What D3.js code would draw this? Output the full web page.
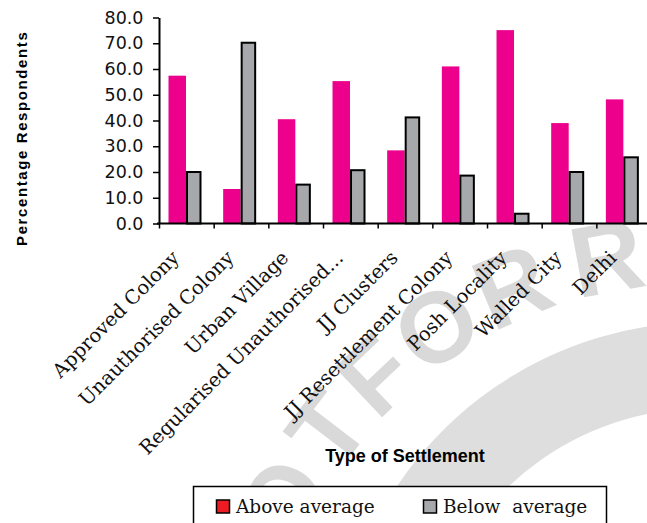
<!DOCTYPE html>
<html>
<head>
<meta charset="utf-8">
<script src="https://cdn.jsdelivr.net/npm/d3@7"></script>
<style>
  html, body { margin: 0; padding: 0; background: #fff; }
  svg { display: block; }
</style>
</head>
<body>
<svg id="chart" width="647" height="523"></svg>
<script>
// Settlement types and survey shares (percentage of respondents)
const categories = [
  "Approved Colony",
  "Unauthorised Colony",
  "Urban Village",
  "Regularised Unauthorised...",
  "JJ Clusters",
  "JJ Resettlement Colony",
  "Posh Locality",
  "Walled City",
  "Delhi"
];
const aboveAverage = [57.4, 13.4, 40.5, 55.3, 28.4, 61.0, 75.1, 39.0, 48.2];
const belowAverage = [20.0, 70.2, 15.1, 20.7, 41.2, 18.6, 3.8, 20.0, 25.7];
const seriesNames = ["Above average", "Below  average"];
const yTicks = [0, 10, 20, 30, 40, 50, 60, 70, 80];

// background stamp: letters and the angle (deg) of each glyph centre on its circle
const stampText = "NOT FOR R";
const stampAngles = [-164, -153.2, -142.5, -138, -133.5, -123.7, -112.9, -106, -100.5];

const W = 647, H = 523;
const svg = d3.select("#chart");

const plot = { left: 159, top: 17.5, bottom: 223.5, bandW: 54.67 };

const x = d3.scaleBand()
  .domain(categories)
  .range([plot.left, plot.left + categories.length * plot.bandW])
  .paddingInner(0).paddingOuter(0);

const xEdge = d3.scaleLinear()
  .domain([0, categories.length])
  .range([plot.left, plot.left + categories.length * plot.bandW]);

const series = d3.scaleBand()
  .domain(seriesNames)
  .range([9.5, 44.5]);

const y = d3.scaleLinear()
  .domain([0, 80])
  .range([plot.bottom, plot.top]);

// ---- faint background stamp ----
const stamp = svg.append("g").attr("class", "stamp");
stamp.append("path")
  .attr("transform", "translate(705,693)")
  .attr("d", d3.arc()({
    innerRadius: 285, outerRadius: 371,
    startAngle: -72 * Math.PI / 180, endAngle: 2 * Math.PI / 180
  }))
  .attr("fill", "#dedede");

{
  const cx = 690, cy = 707, r = 458, fs = 100, capH = 0.716 * fs;
  const font = "'Liberation Sans', Arial, sans-serif";
  const meas = svg.append("text")
    .attr("font-family", font).attr("font-weight", "bold").attr("font-size", fs)
    .style("white-space", "pre").attr("visibility", "hidden");
  const xs = [], ys = [], rots = [];
  stampText.split("").forEach((ch, i) => {
    meas.text(ch);
    const w = meas.node().getComputedTextLength();
    const th = stampAngles[i] * Math.PI / 180;
    const ph = th + Math.PI / 2;
    const Cx = cx + r * Math.cos(th), Cy = cy + r * Math.sin(th);
    const tx = Math.cos(ph), ty = Math.sin(ph);
    const ux = Math.sin(ph), uy = -Math.cos(ph);
    xs.push(Cx - w / 2 * tx - capH / 2 * ux);
    ys.push(Cy - w / 2 * ty - capH / 2 * uy);
    rots.push(stampAngles[i] + 90);
  });
  meas.remove();
  stamp.append("text")
    .attr("font-family", font).attr("font-weight", "bold").attr("font-size", fs)
    .attr("fill", "#d9d9d9")
    .style("white-space", "pre")
    .attr("x", xs.map(v => v.toFixed(1)).join(" "))
    .attr("y", ys.map(v => v.toFixed(1)).join(" "))
    .attr("rotate", rots.map(v => v.toFixed(1)).join(" "))
    .text(stampText);
}

// ---- bars ----
const groups = svg.append("g").selectAll("g")
  .data(categories)
  .join("g")
  .attr("transform", d => `translate(${x(d)},0)`);

groups.append("rect")
  .attr("x", series(seriesNames[0]))
  .attr("y", (d, i) => y(aboveAverage[i]))
  .attr("width", series.bandwidth())
  .attr("height", (d, i) => y(0) - y(aboveAverage[i]))
  .attr("fill", "#ec008c");

groups.append("rect")
  .attr("x", series(seriesNames[1]) + 1)
  .attr("y", (d, i) => y(belowAverage[i]))
  .attr("width", series.bandwidth() - 4)
  .attr("height", (d, i) => y(0) - y(belowAverage[i]))
  .attr("fill", "#a7a8ac")
  .attr("stroke", "#000")
  .attr("stroke-width", 2);

// ---- axes ----
const yAxis = svg.append("g")
  .attr("transform", `translate(${plot.left},0)`)
  .call(d3.axisLeft(y).tickValues(yTicks).tickFormat(d3.format(".1f"))
    .tickSize(6).tickSizeOuter(0).tickPadding(9.5));
yAxis.select(".domain").attr("stroke", "#000").attr("stroke-width", 2);
yAxis.selectAll(".tick line").attr("stroke", "#000").attr("stroke-width", 1.5);
yAxis.selectAll(".tick text")
  .attr("font-family", "'DejaVu Sans', Verdana, sans-serif")
  .attr("font-size", 17.5)
  .attr("fill", "#111");

const xAxis = svg.append("g")
  .attr("transform", `translate(0,${plot.bottom})`)
  .call(d3.axisBottom(xEdge).tickValues(d3.range(categories.length + 1))
    .tickFormat("").tickSize(5).tickSizeOuter(0));
xAxis.select(".domain").attr("stroke", "#000").attr("stroke-width", 2)
  .attr("d", `M${plot.left - 2},0H${W + 10}`);
xAxis.selectAll(".tick line").attr("stroke", "#000").attr("stroke-width", 1.5);

// category labels, rotated
svg.append("g").selectAll("text")
  .data(categories)
  .join("text")
  .attr("transform", d => `translate(${x(d) + x.bandwidth() / 2 - 6},${plot.bottom + 35.5}) rotate(-45)`)
  .attr("text-anchor", "end")
  .attr("font-family", "'DejaVu Serif', Georgia, serif")
  .attr("font-size", 19.5)
  .attr("fill", "#111")
  .text(d => d);

// ---- axis titles ----
svg.append("text")
  .attr("transform", "translate(26.5,138.3) rotate(-90)")
  .attr("text-anchor", "middle")
  .attr("font-family", "'Liberation Sans', Arial, sans-serif")
  .attr("font-weight", "bold")
  .attr("font-size", 15)
  .attr("letter-spacing", 1.6)
  .attr("fill", "#000")
  .text("Percentage Respondents");

svg.append("text")
  .attr("x", 405)
  .attr("y", 462)
  .attr("text-anchor", "middle")
  .attr("font-family", "'Liberation Sans', Arial, sans-serif")
  .attr("font-weight", "bold")
  .attr("font-size", 18)
  .attr("fill", "#000")
  .text("Type of Settlement");

// ---- legend ----
const legend = svg.append("g");
legend.append("rect")
  .attr("x", 193.5).attr("y", 486.5)
  .attr("width", 413).attr("height", 60)
  .attr("fill", "#fff").attr("stroke", "#000").attr("stroke-width", 1.5);

const legendItems = [
  { name: seriesNames[0], fill: "#ed1c24", x: 216 },
  { name: seriesNames[1], fill: "#a7a8ac", x: 423 }
];
const li = legend.selectAll("g.item")
  .data(legendItems)
  .join("g")
  .attr("class", "item")
  .attr("transform", d => `translate(${d.x},499.5)`);
li.append("rect")
  .attr("x", 0.5).attr("y", 0.5)
  .attr("width", 13).attr("height", 13)
  .attr("fill", d => d.fill)
  .attr("stroke", "#000").attr("stroke-width", 1.5);
li.append("text")
  .attr("x", 20)
  .attr("y", 13.8)
  .attr("font-family", "'DejaVu Serif', Georgia, serif")
  .attr("font-size", 18.5)
  .attr("fill", "#111")
  .style("white-space", "pre")
  .text(d => d.name);
</script>
</body>
</html>
